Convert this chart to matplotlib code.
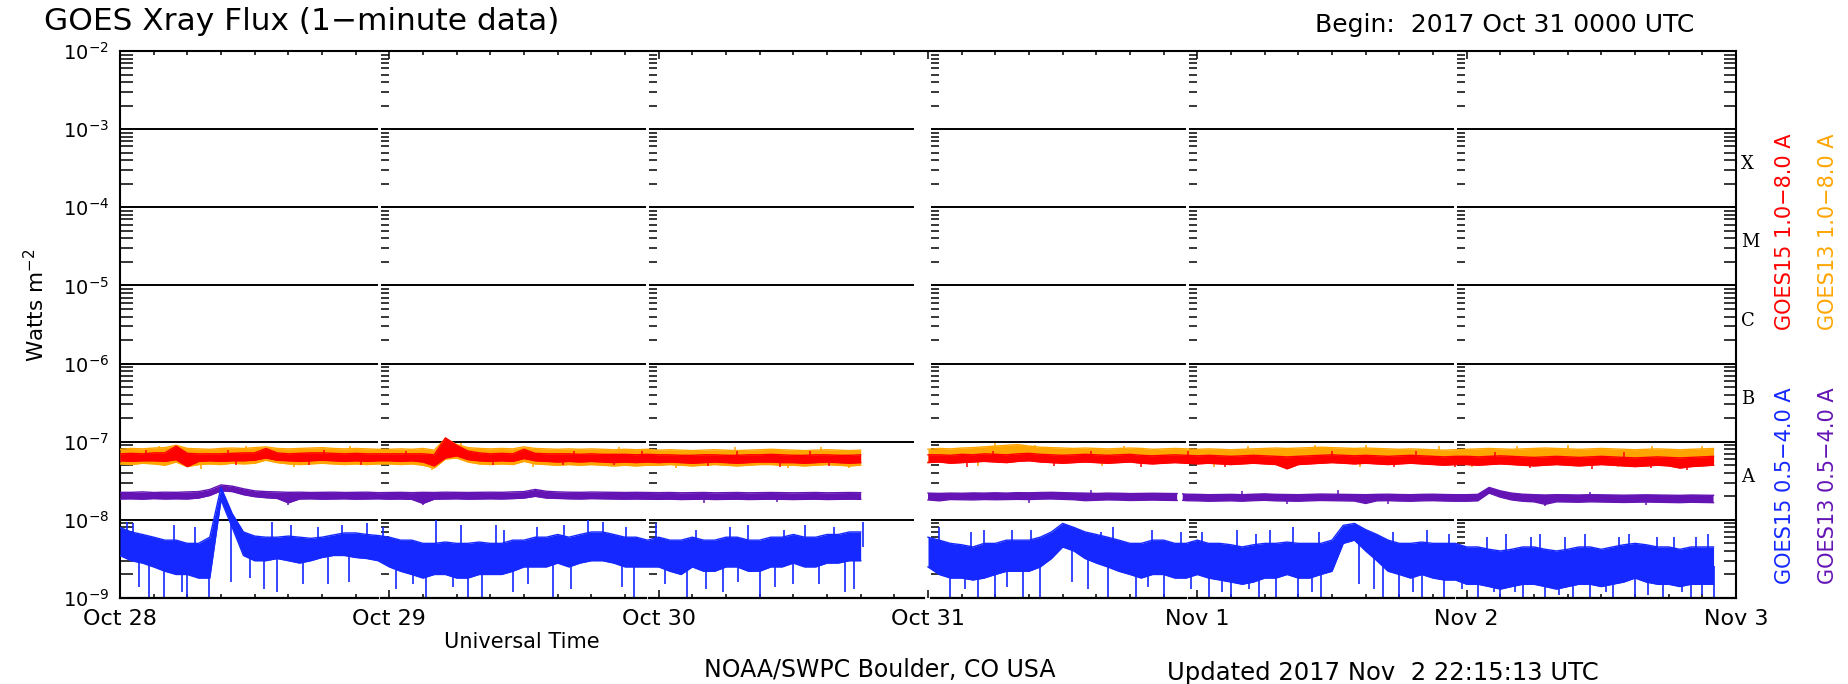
import numpy as np
import matplotlib.pyplot as plt
import matplotlib.transforms as mtrans
from matplotlib.ticker import FixedLocator, MultipleLocator, NullFormatter

# values in units of 1e-9 W/m^2, one per hour
# left block: Oct 28 00h .. Oct 30 18h
hours_left = np.arange(0, 67)
# right block: Oct 31 00h .. Nov 2 22h
hours_right = np.arange(72, 143)
# GOES13 short channel has a short gap just before Nov 1
hours_purple_right = list(range(72, 94)) + [94.2, 94.45, 94.7] + list(range(95, 143))

day_labels = ['Oct 28', 'Oct 29', 'Oct 30', 'Oct 31', 'Nov 1', 'Nov 2', 'Nov 3']
decade_labels = ['$10^{-9}$', '$10^{-8}$', '$10^{-7}$', '$10^{-6}$',
                 '$10^{-5}$', '$10^{-4}$', '$10^{-3}$', '$10^{-2}$']
class_letters = ['A', 'B', 'C', 'M', 'X']

# GOES15 1.0-8.0 A
red_hi_left = [70, 71, 70, 72, 72, 88, 71, 70, 70, 70, 71, 72, 72, 82, 72, 70, 71, 72, 72, 71, 70, 71, 70, 70,
               70, 70, 70, 70, 68, 112, 90, 76, 72, 70, 71, 70, 80, 71, 70, 70, 70, 69, 70, 69, 69, 69, 68, 69,
               68, 68, 67, 67, 68, 68, 67, 67, 68, 68, 69, 68, 67, 67, 68, 68, 67, 67, 68]
red_lo_left = [57, 56, 57, 57, 56, 59, 48, 56, 57, 56, 57, 57, 58, 62, 58, 57, 56, 57, 58, 57, 56, 57, 56, 57,
               57, 56, 57, 55, 49, 62, 66, 59, 57, 56, 57, 56, 61, 57, 56, 55, 56, 55, 56, 55, 54, 55, 54, 55,
               54, 55, 54, 53, 54, 55, 54, 53, 54, 55, 55, 54, 54, 53, 54, 55, 54, 53, 54]
red_hi_right = [68, 68, 67, 69, 68, 70, 69, 68, 70, 71, 69, 68, 67, 68, 69, 68, 67, 68, 69, 67, 66, 67, 68, 67,
                66, 67, 66, 65, 66, 67, 66, 65, 64, 65, 66, 67, 68, 67, 66, 67, 66, 65, 66, 67, 66, 65, 64, 65,
                65, 64, 65, 66, 65, 64, 63, 64, 65, 64, 63, 64, 65, 64, 63, 62, 63, 64, 63, 62, 63, 64, 65]
red_lo_right = [54, 55, 53, 54, 55, 56, 55, 54, 56, 57, 55, 54, 53, 54, 55, 54, 53, 54, 55, 53, 52, 53, 54, 53,
                52, 53, 52, 51, 52, 53, 52, 51, 45, 51, 52, 53, 54, 53, 52, 53, 52, 51, 52, 53, 52, 51, 50, 51,
                51, 50, 51, 52, 51, 50, 49, 50, 51, 50, 49, 50, 51, 50, 49, 48, 49, 50, 49, 46, 48, 49, 50]
red_spike_hours = [10.3, 16.8, 21.5, 33.2, 39.5, 44.0, 52.4, 58.8, 63.2, 75.5, 83.2, 91.0, 98.5, 113.5, 119.0,
                   125.6, 131.2, 136.4, 139.6,
                   2.3, 9.6, 18.2, 25.5, 40.5, 46.5, 55.0, 61.5, 77.8, 86.5, 95.2, 108.0, 115.5, 122.5, 134.0]
red_spike_vals = [50, 51, 50, 50, 51, 50, 49, 48, 49, 48, 49, 48, 47, 47, 47, 46, 45, 46, 44,
                  78, 79, 79, 77, 77, 76, 75, 76, 76, 77, 75, 76, 75, 74, 73]

# GOES13 1.0-8.0 A
orange_hi_left = [80, 82, 81, 83, 84, 90, 82, 81, 80, 82, 83, 82, 84, 86, 82, 81, 82, 83, 84, 82, 81, 82, 81, 80,
                  80, 81, 80, 82, 78, 110, 92, 84, 82, 81, 82, 81, 86, 82, 81, 80, 81, 80, 81, 80, 79, 80, 79, 80,
                  78, 79, 78, 77, 78, 79, 78, 77, 78, 79, 80, 79, 78, 77, 78, 79, 78, 77, 78]
orange_lo_left = [52, 51, 53, 52, 50, 55, 48, 51, 52, 51, 53, 52, 53, 58, 54, 52, 51, 52, 53, 52, 51, 52, 51, 52,
                  52, 51, 52, 50, 46, 60, 62, 55, 52, 51, 52, 51, 56, 52, 51, 50, 51, 50, 51, 50, 49, 50, 49, 50,
                  50, 51, 50, 49, 50, 51, 50, 49, 50, 51, 51, 50, 50, 49, 50, 51, 50, 49, 50]
orange_hi_right = [80, 82, 81, 83, 84, 86, 88, 90, 92, 88, 85, 84, 83, 82, 83, 82, 81, 82, 83, 82, 80, 81, 82, 81,
                   80, 81, 80, 79, 80, 81, 82, 83, 82, 83, 84, 85, 84, 83, 82, 83, 82, 81, 80, 81, 80, 79, 78, 79,
                   80, 81, 82, 81, 80, 81, 82, 83, 82, 81, 80, 81, 82, 81, 80, 79, 80, 81, 80, 79, 80, 81, 82]
orange_lo_right = [55, 56, 55, 56, 57, 58, 59, 60, 60, 58, 57, 56, 55, 56, 57, 56, 55, 56, 57, 56, 54, 55, 56, 55,
                   54, 55, 54, 53, 54, 55, 56, 57, 56, 57, 58, 58, 57, 56, 55, 56, 55, 54, 53, 54, 53, 52, 52, 53,
                   54, 55, 56, 55, 54, 55, 56, 57, 56, 55, 54, 55, 56, 55, 54, 53, 54, 55, 54, 53, 54, 55, 56]
orange_spike_hours = [3.5, 11.2, 20.5, 30.4, 44.5, 54.8, 62.5, 78.0, 81.5, 89.5, 100.5, 106.5, 111.0, 117.5,
                      124.5, 129.0, 136.5, 141.0,
                      7.2, 15.5, 27.8, 36.8, 49.5, 59.5, 65.0, 76.5, 87.5, 97.5, 110.5, 120.5, 133.5]
orange_spike_vals = [88, 89, 88, 95, 86, 86, 86, 95, 92, 88, 89, 92, 90, 87, 89, 90, 88, 89,
                     45, 47, 44, 47, 46, 46, 46, 49, 49, 48, 48, 48, 47]

# GOES13 0.5-4.0 A
purple_hi_left = [22.5, 22.5, 22.8, 22.4, 22.6, 22.5, 22.8, 23, 24.5, 28, 27, 25, 23.5, 23, 22.8, 22.5, 22.6, 22.4, 22.5, 22.6, 22.4, 22.5, 22.6, 22.3,
                  22.4, 22.5, 22.3, 22.5, 22.4, 22.6, 22.5, 22.4, 22.5, 22.6, 22.5, 22.8, 23, 24.5, 23.2, 22.8, 22.6, 22.5, 22.7, 22.6, 22.5, 22.4, 22.5, 22.4,
                  22.3, 22.4, 22.2, 22.3, 22.4, 22.2, 22.3, 22.4, 22.2, 22.3, 22.4, 22.3, 22.2, 22.3, 22.4, 22.2, 22.3, 22.4, 22.3]
purple_lo_left = [18.5, 18.6, 18.4, 18.7, 18.5, 18.6, 18.5, 19, 20.5, 23.5, 23, 21, 19.8, 19.2, 18.8, 16.5, 18.5, 18.6, 18.4, 18.5, 18.6, 18.4, 18.5, 18.6,
                  18.4, 18.5, 18.3, 16.2, 18.4, 18.5, 18.6, 18.4, 18.5, 18.6, 18.5, 18.7, 19, 20, 19, 18.8, 18.6, 18.5, 18.7, 18.6, 18.5, 18.4, 18.5, 18.4,
                  18.3, 18.4, 18.2, 18.3, 18.4, 18.2, 18.3, 18.4, 18.2, 18.3, 18.4, 18.3, 18.2, 18.3, 18.4, 18.2, 18.3, 18.4, 18.3]
purple_hi_right = [22, 21.8, 22, 21.9, 22.1, 22, 22.2, 22, 22.3, 22.2, 22.4, 22.5, 22.3, 22.1, 22, 21.8, 22, 21.9, 21.7, 21.8, 21.9, 21.8, 21.7,
                   np.nan,
                   21.5, 21.3, 21.2, 21, 21.1, 21.2, 21, 21.3, 21.5, 21.2, 21.1, 21, 21.2, 21.4, 21.3, 21.2, 21.1, 21, 21.2, 21.3, 21.1, 21, 21.2, 21.3, 21.1, 21,
                   21, 21.2, 26, 23.5, 22, 21.3, 21, 20.8, 21, 20.9, 20.8, 21, 20.9, 20.8, 20.7, 20.8, 20.9, 20.8, 20.7, 20.6, 20.8, 20.7, 20.6]
purple_lo_right = [18, 17.5, 18.2, 18.1, 18, 18.2, 18.1, 18.2, 18.3, 18.2, 18.4, 18.5, 18.3, 18.1, 17.6, 17.8, 18, 17.9, 17.7, 17.8, 17.9, 17.8, 17.7,
                   np.nan,
                   17.8, 17.6, 17.5, 17.3, 17.4, 17.5, 17.3, 17.6, 17.8, 17.5, 17.4, 17.3, 17.5, 17.7, 17.6, 17.5, 17.4, 16.2, 17.5, 17.6, 17.4, 17.3, 17.5, 17.6, 17.4, 17.3,
                   17.3, 17.5, 22, 19.5, 18, 17.3, 17, 15.8, 17, 16.9, 16.8, 17, 16.9, 16.8, 16.7, 16.8, 16.9, 16.8, 16.7, 16.6, 16.8, 16.7, 16.6]
purple_spike_hours = [15.0, 27.0, 52.0, 58.5, 81.0, 104.0, 113.0, 127.0, 136.0, 37.0, 86.5, 100.0, 108.5, 131.0]
purple_spike_vals = [15.5, 15.5, 16.5, 16.8, 16.5, 16.0, 15.8, 15.0, 15.5, 25, 24, 23.5, 24, 23]

# GOES15 0.5-4.0 A
blue_hi_left = [8, 7, 6.5, 6, 5.5, 5.5, 5, 5, 6, 26, 12, 7, 6.2, 6, 6, 6.2, 6, 5.8, 6, 6.4, 6.8, 6.8, 6.5, 6.3,
                6, 5.5, 5.5, 5, 5, 5.2, 5, 5, 5.2, 5, 5, 5.5, 5.5, 6, 6, 6.5, 6, 6.5, 7, 7, 6.5, 6, 6, 5.5,
                6, 5.5, 5.5, 6, 5.5, 5.5, 6, 6, 5.5, 5.5, 6, 6, 6.5, 6, 6, 6.5, 6.5, 7, 7]
blue_lo_left = [3.5, 3, 2.8, 2.5, 2.2, 2, 2, 1.8, 1.8, 18, 8, 3.5, 3, 3, 3.2, 3, 2.8, 3, 3.3, 3.5, 3.5, 3.3, 3.2, 3,
                2.5, 2.2, 2, 1.8, 2, 2, 1.8, 1.8, 2, 2, 2, 2.2, 2.5, 2.5, 2.5, 2.8, 2.5, 2.8, 3, 3, 2.8, 2.5, 2.5, 2.5,
                2.5, 2.2, 2, 2.5, 2.2, 2.2, 2.5, 2.5, 2.2, 2.2, 2.5, 2.5, 2.8, 2.5, 2.5, 2.8, 2.8, 3, 3]
blue_hi_right = [6, 5.5, 5, 4.8, 4.5, 5, 5, 5.5, 5.5, 5.5, 6, 7, 9, 8, 7, 6.5, 6, 5.5, 5, 5, 5.5, 5.5, 5, 5,
                 5.5, 5, 5, 4.8, 4.5, 4.8, 5, 5, 5.2, 5, 5, 5, 5.5, 8.5, 9, 7.5, 6.5, 5.5, 5, 5, 5.2, 5, 5, 5,
                 4.5, 4.5, 4.2, 4, 4.2, 4.5, 4.5, 4.2, 4, 4.2, 4.5, 4.5, 4.2, 4.5, 4.8, 5, 4.8, 4.5, 4.5, 4.2, 4.5, 4.5, 4.5]
blue_lo_right = [2.5, 2, 1.8, 1.8, 1.7, 1.8, 2, 2.2, 2.2, 2.2, 2.5, 3.2, 4.5, 4, 3.2, 2.8, 2.5, 2.2, 2, 1.8, 2, 2, 1.8, 1.8,
                 2, 1.8, 1.7, 1.6, 1.5, 1.6, 1.8, 1.8, 2, 1.8, 1.8, 2, 2.2, 5, 5.5, 4, 3, 2.2, 2, 1.8, 2, 1.8, 1.7, 1.7,
                 1.5, 1.5, 1.4, 1.3, 1.4, 1.5, 1.5, 1.4, 1.3, 1.4, 1.5, 1.5, 1.4, 1.5, 1.6, 1.8, 1.6, 1.5, 1.5, 1.4, 1.5, 1.5, 1.5]
# single-minute excursions of the short channel (hour, value)
blue_spike_hours = [2.6, 3.9, 5.5, 6.0, 7.9, 12.8, 14.0, 18.5, 27.3, 31.0, 32.3, 35.0, 38.6, 45.8, 50.5, 53.7, 57.0, 60.0, 64.6,
                    1.2, 4.8, 13.5, 22.0, 28.2, 33.5, 41.7, 43.0, 47.8, 56.0, 61.0, 66.2,
                    74, 76.5, 78, 80.5, 82, 88, 90.5, 93, 97, 99, 101.5, 103, 105, 107, 112.5, 114, 116, 118,
                    121, 123, 125, 127, 129.5, 131, 133, 135, 137.5, 140, 142,
                    73, 77, 79.5, 88.5, 92, 99.5, 102.5, 104.5, 116.5, 123.5, 126.5, 130.5, 134.5, 138.5, 141.5,
                    1.7, 9.9, 11.6, 16.3, 20.4, 24.6, 26.1, 29.7, 36.4, 40.2, 44.7, 48.6, 52.2, 55.1, 58.4, 62.3, 65.4,
                    75.3, 79.0, 84.8, 86.3, 91.6, 95.4, 98.2, 100.6, 106.2, 110.4, 111.7, 115.2, 119.6, 122.4,
                    124.3, 128.2, 132.4, 136.2, 139.2, 141.0,
                    0.6, 6.7, 15.2, 17.6, 19.8, 23.4, 30.4, 34.2, 37.2, 39.6, 45.1, 51.3, 54.4, 59.2, 63.6,
                    75.8, 81.2, 87.4, 94.5, 96.4, 101.2, 106.8, 113.4, 118.4, 121.8, 125.7, 128.8, 133.6, 137.0, 140.4]
blue_spike_vals = [1.0, 1.0, 1.2, 1.0, 1.0, 1.3, 1.2, 1.5, 1.0, 1.0, 1.0, 1.2, 1.0, 1.0, 1.0, 1.2, 1.0, 1.5, 1.2,
                   9, 8.5, 9.5, 9, 10, 8.5, 10, 9.5, 9, 8.5, 8.5, 9.5,
                   1.0, 1.0, 1.0, 1.0, 1.0, 1.0, 1.0, 1.0, 1.0, 1.0, 1.0, 1.0, 1.0, 1.0, 1.0, 1.0, 1.0, 1.0,
                   1.0, 1.0, 1.0, 1.0, 1.0, 1.0, 1.0, 1.0, 1.0, 1.0, 1.0,
                   8, 7.5, 7.5, 8, 7.5, 7.5, 7.5, 8, 7.5, 6.5, 6.5, 6.5, 6.5, 6, 6.5,
                   1.4, 1.6, 1.8, 1.5, 1.6, 1.3, 1.5, 1.4, 1.5, 1.3, 1.4, 1.5, 1.3, 1.6, 1.4, 1.5, 1.3,
                   1.3, 1.4, 1.6, 1.3, 1.4, 1.3, 1.2, 1.3, 1.2, 1.5, 1.3, 1.2, 1.3, 1.2,
                   1.2, 1.1, 1.2, 1.1, 1.2, 1.1,
                   9.5, 8, 8.5, 8, 8.5, 8, 8.5, 7.5, 8, 8.5, 8, 7.5, 8, 7.5, 8,
                   7, 7.5, 7, 7, 7, 6.5, 7, 7, 6.5, 6, 6, 6, 6, 6, 6]

RED = '#ff0000'
ORANGE = '#ffa500'
PURPLE = '#6414b4'
BLUE = '#1428ff'

W, H = 1848, 684
fig = plt.figure(figsize=(W / 100, H / 100), dpi=100)
ax = fig.add_axes([120 / W, 1 - 598 / H, (1736 - 120) / W, (598 - 51) / H])
ax.set_yscale('log')
ax.set_xlim(0, 6)
ax.set_ylim(1e-9, 1e-2)


def band(hours, hi, lo, color):
    t = np.asarray(hours, float) / 24
    hi = np.asarray(hi, float) * 1e-9
    lo = np.asarray(lo, float) * 1e-9
    ax.fill_between(t, lo, hi, color=color, lw=0, zorder=3)
    ax.plot(t, hi, color=color, lw=1, zorder=3)
    ax.plot(t, lo, color=color, lw=1, zorder=3)


def spikes(sp_hours, sp_vals, hours_l, hi_l, lo_l, hours_r, hi_r, lo_r, color, lw=1.1):
    # spikes start from the middle of their band
    h = np.concatenate([hours_l, np.asarray(hours_r, float)])
    hi = np.concatenate([hi_l, hi_r]).astype(float)
    lo = np.concatenate([lo_l, lo_r]).astype(float)
    ok = ~np.isnan(hi)
    base = np.interp(sp_hours, h[ok], np.sqrt(hi[ok] * lo[ok]))
    ax.vlines(np.array(sp_hours) / 24, np.array(sp_vals) * 1e-9, base * 1e-9, color=color, lw=lw, zorder=3)


band(hours_left, orange_hi_left, orange_lo_left, ORANGE)
band(hours_right, orange_hi_right, orange_lo_right, ORANGE)
spikes(orange_spike_hours, orange_spike_vals, hours_left, orange_hi_left, orange_lo_left,
       hours_right, orange_hi_right, orange_lo_right, ORANGE)
band(hours_left, red_hi_left, red_lo_left, RED)
band(hours_right, red_hi_right, red_lo_right, RED)
spikes(red_spike_hours, red_spike_vals, hours_left, red_hi_left, red_lo_left,
       hours_right, red_hi_right, red_lo_right, RED)
band(hours_left, purple_hi_left, purple_lo_left, PURPLE)
band(hours_purple_right, purple_hi_right, purple_lo_right, PURPLE)
spikes(purple_spike_hours, purple_spike_vals, hours_left, purple_hi_left, purple_lo_left,
       hours_purple_right, purple_hi_right, purple_lo_right, PURPLE)
band(hours_left, blue_hi_left, blue_lo_left, BLUE)
band(hours_right, blue_hi_right, blue_lo_right, BLUE)
spikes(blue_spike_hours, blue_spike_vals, hours_left, blue_hi_left, blue_lo_left,
       hours_right, blue_hi_right, blue_lo_right, BLUE, lw=1.2)

# frame: gridlines and bottom line broken at the day separators
day_px = (1736 - 120) / 6
segments = [(0, 0.958), (0.969, 1.953), (1.964, 2.948), (3.011, 3.959), (3.970, 4.954), (4.965, 6)]
bottom_segments = [(0, 0.958), (0.969, 1.953), (1.964, 2.985), (3.011, 3.959), (3.970, 4.954), (4.965, 6)]
for a, b in segments:
    ax.hlines([1e-8, 1e-7, 1e-6, 1e-5, 1e-4, 1e-3], a, b, color='k', lw=1.4, zorder=2)
for a, b in bottom_segments:
    ax.plot([a, b], [1e-9, 1e-9], color='k', lw=1.6, clip_on=False, zorder=4)
ax.spines['bottom'].set_visible(False)
for s in ['left', 'right', 'top']:
    ax.spines[s].set_linewidth(1.5)

# little log tick columns at each separator
minor_vals = [m * 10.0 ** k for k in range(-9, -2) for m in range(2, 10)]
for s in [0.969, 1.964, 3.011, 3.970, 4.965]:
    ax.hlines(minor_vals, s, s + 8 / day_px, color='k', lw=1.1, zorder=2)

ax.xaxis.set_major_locator(FixedLocator(range(7)))
ax.set_xticklabels(day_labels)
ax.xaxis.set_minor_locator(MultipleLocator(1 / 8))
ax.tick_params(axis='x', which='both', direction='in', top=True, bottom=True, width=1.1)
ax.tick_params(axis='x', which='major', length=6, labelsize=16, pad=8)
ax.tick_params(axis='x', which='minor', length=3)

ax.yaxis.set_major_locator(FixedLocator([10.0 ** k for k in range(-9, -1)]))
ax.set_yticklabels(decade_labels)
ax.yaxis.set_minor_locator(FixedLocator(minor_vals))
ax.yaxis.set_minor_formatter(NullFormatter())
ax.tick_params(axis='y', which='both', direction='in', left=True, right=True, width=1.1)
ax.tick_params(axis='y', which='major', length=0, labelsize=14, pad=8)
ax.tick_params(axis='y', which='minor', length=9)

trans = mtrans.blended_transform_factory(ax.transAxes, ax.transData)
for k, letter in zip(range(-8, -3), class_letters):
    ax.text(1.003, 10 ** (k + 0.55), letter, transform=trans, family='DejaVu Serif',
            fontsize=13, va='center', ha='left')

fig.text(44 / W, 1 - 21 / H, 'GOES Xray Flux (1\u2212minute data)', fontsize=22.5, va='center', ha='left')
fig.text(1315 / W, 1 - 25 / H, 'Begin:  2017 Oct 31 0000 UTC', fontsize=18, va='center', ha='left')
fig.text(36 / W, 1 - 305 / H, 'Watts m$^{-2}$', fontsize=15.5, rotation=90, va='center', ha='center')
fig.text(522 / W, 1 - 642 / H, 'Universal Time', fontsize=15, va='center', ha='center')
fig.text(880 / W, 1 - 670 / H, 'NOAA/SWPC Boulder, CO USA', fontsize=17, va='center', ha='center')
fig.text(1167 / W, 1 - 673 / H, 'Updated 2017 Nov  2 22:15:13 UTC', fontsize=17.5, va='center', ha='left')

fig.text(1785 / W, 1 - 232 / H, 'GOES15 1.0\u22128.0 A', color=RED, fontsize=15, rotation=90, va='center', ha='center')
fig.text(1828 / W, 1 - 232 / H, 'GOES13 1.0\u22128.0 A', color=ORANGE, fontsize=15, rotation=90, va='center', ha='center')
fig.text(1785 / W, 1 - 486 / H, 'GOES15 0.5\u22124.0 A', color=BLUE, fontsize=15, rotation=90, va='center', ha='center')
fig.text(1828 / W, 1 - 486 / H, 'GOES13 0.5\u22124.0 A', color=PURPLE, fontsize=15, rotation=90, va='center', ha='center')

fig.savefig('out.png', dpi=100)
